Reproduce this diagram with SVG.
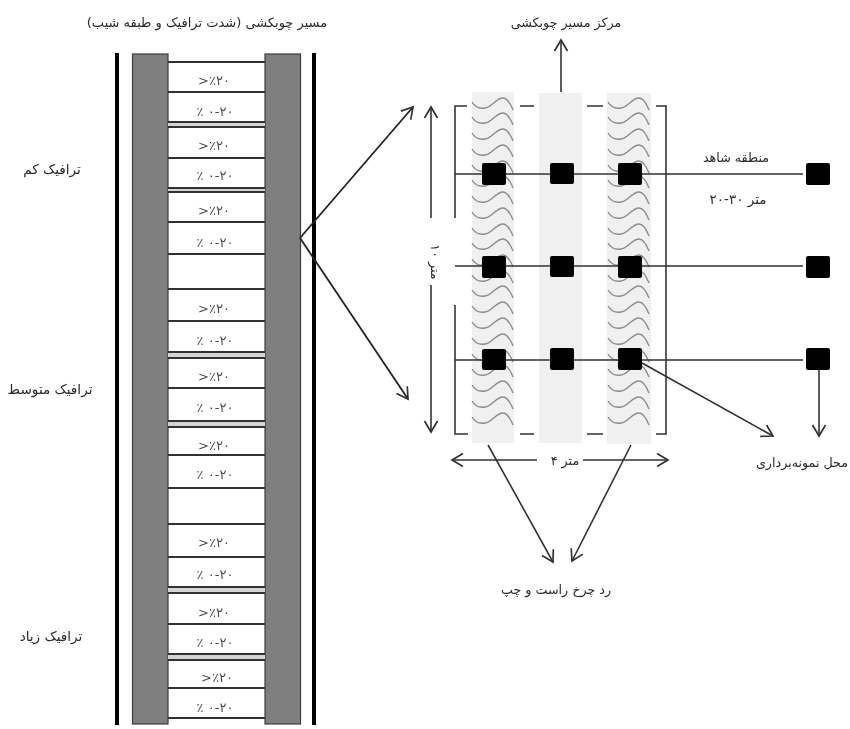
<svg xmlns="http://www.w3.org/2000/svg" xmlns:xlink="http://www.w3.org/1999/xlink" width="850" height="729" viewBox="0 0 850 729">
<style>
text{font-family:"DejaVu Sans","Liberation Sans",sans-serif;fill:#2a2a2a;font-size:12.700px;text-anchor:middle}
.pct{font-size:13px;fill:#4a4a4a;direction:ltr}
.side{font-size:13.600px}
.rail{stroke:#000;stroke-width:4;fill:none}
.bar{fill:#7f7f7f;stroke:#3c3c3c;stroke-width:1.2}
.div{stroke:#333;stroke-width:1.800;fill:none}
.band{fill:#f0f0f0}
.wave{fill:none;stroke:#8c8c8c;stroke-width:1.400}
.sq{fill:#000}
.ln{stroke:#333;stroke-width:1.600;fill:none}
.ar{stroke:#333;stroke-width:1.600;fill:none;marker-end:url(#a)}
.big{stroke:#222;stroke-width:1.800;fill:none;marker-end:url(#a)}
</style>
<defs>
<marker id="a" markerUnits="userSpaceOnUse" markerWidth="18" markerHeight="18" refX="14" refY="9" orient="auto-start-reverse" overflow="visible">
<path d="M3,2.500 L14,9 L3,15.500" fill="none" stroke="#333" stroke-width="1.700"/>
</marker>
<path id="w" class="wave" d="M0,0 C3,5 8,7 13,6 C20,5 24,-4 31,-4 C35,-4 39,3 41,8"/>
<filter id="soft" x="0" y="0" width="100%" height="100%"><feGaussianBlur stdDeviation="0.500"/></filter>
</defs>
<rect width="850" height="729" fill="#fff"/>
<g filter="url(#soft)">
<g id="road">
<path class="rail" d="M117,53V725M314,53V725"/>
<rect class="bar" x="132.500" y="54" width="35.500" height="670"/>
<rect class="bar" x="265" y="54" width="35.500" height="670"/>
<path fill="#d4d4d4" d="M168,352h97v6h-97zM168,421h97v6h-97zM168,122h97v5h-97zM168,188h97v4h-97zM168,587h97v6h-97zM168,654h97v6h-97z"/>
<path class="div" d="M168,62H265M168,92H265M168,122H265M168,127H265M168,158H265M168,188H265M168,192H265M168,222H265M168,254H265M168,289H265M168,321H265M168,352H265M168,358H265M168,388H265M168,421H265M168,427H265M168,455H265M168,488H265M168,524H265M168,557H265M168,587H265M168,593H265M168,624H265M168,654H265M168,660H265M168,688H265M168,718H265"/>
</g>
<g id="slopes">
<text class="pct" x="214" y="85">&gt;٪۲۰</text>
<text class="pct" x="215" y="116">٪ ۰-۲۰</text>
<text class="pct" x="214" y="150">&gt;٪۲۰</text>
<text class="pct" x="215" y="180">٪ ۰-۲۰</text>
<text class="pct" x="214" y="215">&gt;٪۲۰</text>
<text class="pct" x="215" y="247">٪ ۰-۲۰</text>
<text class="pct" x="214" y="313">&gt;٪۲۰</text>
<text class="pct" x="215" y="345">٪ ۰-۲۰</text>
<text class="pct" x="214" y="381">&gt;٪۲۰</text>
<text class="pct" x="215" y="412">٪ ۰-۲۰</text>
<text class="pct" x="214" y="450">&gt;٪۲۰</text>
<text class="pct" x="215" y="479">٪ ۰-۲۰</text>
<text class="pct" x="214" y="547">&gt;٪۲۰</text>
<text class="pct" x="215" y="579">٪ ۰-۲۰</text>
<text class="pct" x="214" y="617">&gt;٪۲۰</text>
<text class="pct" x="215" y="647">٪ ۰-۲۰</text>
<text class="pct" x="217" y="682">&gt;٪۲۰</text>
<text class="pct" x="215" y="712">٪ ۰-۲۰</text>
</g>
<g id="labels-left">
<text x="207" y="27" style="font-size:13px">مسیر چوبکشی (شدت ترافیک و طبقه شیب)</text>
<text class="side" x="52" y="174">ترافیک کم</text>
<text class="side" x="50" y="394">ترافیک متوسط</text>
<text class="side" x="51" y="641">ترافیک زیاد</text>
</g>
<g id="bands">
<rect class="band" x="472" y="92" width="42" height="351"/>
<rect class="band" x="539" y="93" width="43" height="350"/>
<rect class="band" x="607" y="93" width="44" height="351"/>
</g>
<g id="waves">
<use href="#w" x="472" y="102"/><use href="#w" x="472" y="117"/><use href="#w" x="472" y="133"/><use href="#w" x="472" y="149"/><use href="#w" x="472" y="165"/><use href="#w" x="472" y="180"/><use href="#w" x="472" y="196"/><use href="#w" x="472" y="212"/><use href="#w" x="472" y="228"/><use href="#w" x="472" y="243"/><use href="#w" x="472" y="259"/><use href="#w" x="472" y="275"/><use href="#w" x="472" y="290"/><use href="#w" x="472" y="306"/><use href="#w" x="472" y="322"/><use href="#w" x="472" y="338"/><use href="#w" x="472" y="354"/><use href="#w" x="472" y="369"/><use href="#w" x="472" y="385"/><use href="#w" x="472" y="401"/><use href="#w" x="472" y="417"/>
<use href="#w" x="608" y="102"/><use href="#w" x="608" y="117"/><use href="#w" x="608" y="133"/><use href="#w" x="608" y="149"/><use href="#w" x="608" y="165"/><use href="#w" x="608" y="180"/><use href="#w" x="608" y="196"/><use href="#w" x="608" y="212"/><use href="#w" x="608" y="228"/><use href="#w" x="608" y="243"/><use href="#w" x="608" y="259"/><use href="#w" x="608" y="275"/><use href="#w" x="608" y="290"/><use href="#w" x="608" y="306"/><use href="#w" x="608" y="322"/><use href="#w" x="608" y="338"/><use href="#w" x="608" y="354"/><use href="#w" x="608" y="369"/><use href="#w" x="608" y="385"/><use href="#w" x="608" y="401"/><use href="#w" x="608" y="417"/>
</g>
<g id="connectors">
<path class="ln" d="M455,218V106H467M520,106H534M587,106H603M656,106H666V434H656M603,434H587M534,434H520M468,434H455V305"/>
<path class="ln" d="M455,174H803M455,266H803M455,360H803"/>
<path class="ar" d="M561,92V40"/>
<path class="ar" d="M431,218V107"/>
<path class="ar" d="M431,285V432"/>
<path class="ar" d="M537,460H452"/>
<path class="ar" d="M583,460H668"/>
<path class="ar" d="M488,445L553,562"/>
<path class="ar" d="M631,445L572,561"/>
<path class="ar" d="M642,363L773,436"/>
<path class="ar" d="M819,370V436"/>
<path class="big" d="M300,238L413,107"/>
<path class="big" d="M300,238L408,399"/>
</g>
<g id="samples">
<rect class="sq" x="482" y="163" width="24" height="22" rx="2"/><rect class="sq" x="550" y="163" width="24" height="21" rx="2"/><rect class="sq" x="618" y="163" width="24" height="22" rx="2"/><rect class="sq" x="806" y="163" width="24" height="22" rx="2"/>
<rect class="sq" x="482" y="256" width="24" height="22" rx="2"/><rect class="sq" x="550" y="256" width="24" height="21" rx="2"/><rect class="sq" x="618" y="256" width="24" height="22" rx="2"/><rect class="sq" x="806" y="256" width="24" height="22" rx="2"/>
<rect class="sq" x="482" y="349" width="24" height="21" rx="2"/><rect class="sq" x="550" y="348" width="24" height="22" rx="2"/><rect class="sq" x="618" y="348" width="24" height="22" rx="2"/><rect class="sq" x="806" y="348" width="24" height="22" rx="2"/>
</g>
<g id="labels-right">
<text x="566" y="27">مرکز مسیر چوبکشی</text>
<text x="736" y="162">منطقه شاهد</text>
<text x="738" y="204" style="font-size:13.500px">۲۰-۳۰ متر</text>
<text x="802" y="467">محل نمونه‌برداری</text>
<text x="556" y="594">رد چرخ راست و چپ</text>
<text x="565" y="465">۴ متر</text>
<text transform="translate(431,262) rotate(90)">۱۰ متر</text>
</g>
</g>
</svg>
